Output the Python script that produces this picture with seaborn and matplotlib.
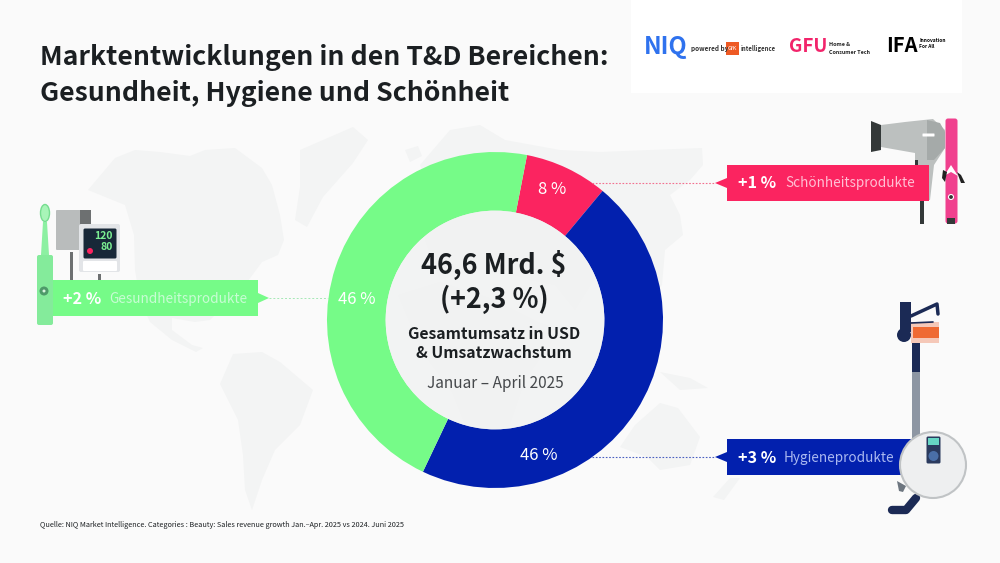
import matplotlib
matplotlib.use('Agg')
import matplotlib.pyplot as plt
import seaborn as sns
from matplotlib.patches import Polygon, Rectangle, Circle, FancyBboxPatch, Ellipse

# data
categories = ['Schönheitsprodukte', 'Hygieneprodukte', 'Gesundheitsprodukte']
shares = [8, 46, 46]
share_labels = ['8 %', '46 %', '46 %']
growth_labels = ['+1 %', '+3 %', '+2 %']
colors = ['#fb2460', '#0220ae', '#76fb88']

BG = '#fafafa'
LAND = '#f3f4f4'
DARK = '#1b1f22'
NAVY = '#1b2a55'
FONT = ['Noto Sans CJK SC', 'DejaVu Sans']

sns.set_theme(style='white')
plt.rcParams['font.family'] = FONT
palette = sns.color_palette(colors)

fig = plt.figure(figsize=(10, 5.63), dpi=100, facecolor=BG)


def px_axes(z):
    a = fig.add_axes([0, 0, 1, 1], zorder=z)
    a.set_xlim(0, 1000)
    a.set_ylim(563, 0)
    a.axis('off')
    a.patch.set_alpha(0)
    return a


bg = px_axes(0)
top = px_axes(2)

# world map in the background
land = [
    [(88, 190), (115, 158), (135, 150), (160, 152), (190, 156), (205, 150), (235, 148), (262, 168), (272, 185), (280, 215),
     (284, 240), (278, 255), (262, 262), (245, 285), (225, 305), (210, 320), (195, 322), (172, 318), (172, 330), (192, 345),
     (203, 348), (196, 352), (172, 340), (150, 322), (140, 300), (135, 270), (134, 235), (125, 205)],
    [(300, 150), (353, 127), (368, 140), (353, 163), (323, 197), (307, 227), (295, 220), (300, 187)],
    [(220, 384), (233, 354), (262, 352), (280, 362), (313, 390), (300, 425), (275, 450), (262, 480), (252, 510), (245, 490),
     (243, 455), (238, 420)],
    [(405, 150), (418, 146), (422, 156), (410, 162)],
    [(420, 165), (450, 130), (480, 125), (505, 140), (560, 150), (600, 152), (650, 150), (702, 148), (703, 165), (690, 180),
     (670, 195), (680, 215), (683, 235), (665, 250), (662, 285), (648, 300), (630, 272), (600, 270), (575, 310), (555, 285),
     (530, 280), (500, 270), (470, 270), (440, 280), (425, 240), (435, 205)],
    [(398, 295), (440, 282), (490, 298), (538, 322), (560, 330), (525, 380), (508, 430), (472, 442), (452, 392), (422, 352)],
    [(620, 447), (635, 425), (660, 403), (678, 408), (700, 437), (690, 465), (660, 470), (647, 457)],
    [(660, 372), (690, 378), (708, 388), (680, 390)],
    [(713, 497), (730, 478), (740, 478), (724, 500)],
]
for poly in land:
    bg.add_patch(Polygon(poly, closed=True, fc=LAND, ec='none'))

# logo box
bg.add_patch(Rectangle((631, 0), 331, 93, fc='white', ec='none'))

# donut
pie_ax = fig.add_axes([327 / 1000, 1 - 488 / 563, 336 / 1000, 336 / 563], zorder=1)
pie_ax.pie(shares, colors=palette, startangle=79, counterclock=False, radius=1,
           wedgeprops={'width': 0.349, 'linewidth': 0})
pie_ax.set_xlim(-1, 1)
pie_ax.set_ylim(-1, 1)
pie_ax.add_patch(Circle((0, 0), 0.651, fc='#f1f2f2', ec='none', alpha=0.85))
pie_ax.patch.set_alpha(0)

top.text(552, 189, share_labels[0], color='white', fontsize=12, ha='center', va='center')
top.text(539, 456, share_labels[1], color='white', fontsize=12, ha='center', va='center')
top.text(357, 299, share_labels[2], color='white', fontsize=12, ha='center', va='center')

# centre text
top.text(494, 265, '46,6 Mrd. $', color=DARK, fontsize=19.4, weight='bold', ha='center', va='center')
top.text(494, 299, '(+2,3 %)', color=DARK, fontsize=19.4, weight='bold', ha='center', va='center')
top.text(494, 334, 'Gesamtumsatz in USD', color=DARK, fontsize=11.4, weight='bold', ha='center', va='center')
top.text(494, 353, '& Umsatzwachstum', color=DARK, fontsize=11.4, weight='bold', ha='center', va='center')
top.text(495, 383, 'Januar – April 2025', color='#45484b', fontsize=11.1, ha='center', va='center')

# title and source
top.text(40, 57.5, 'Marktentwicklungen in den T&D Bereichen:', color=DARK, fontsize=19.2, weight='bold', va='center')
top.text(40, 93.5, 'Gesundheit, Hygiene und Schönheit', color=DARK, fontsize=19.2, weight='bold', va='center')
top.text(40, 525, 'Quelle: NIQ Market Intelligence. Categories : Beauty: Sales revenue growth Jan.–Apr. 2025 vs 2024. Juni 2025',
         color=DARK, fontsize=5.25, va='center')

# logos
top.text(644, 47, 'NIQ', color='#2f72ee', fontsize=17, weight='bold', va='center')
top.text(691, 49, 'powered by', color='#333333', fontsize=4.6, weight='bold', va='center')
top.add_patch(Rectangle((726, 42), 13, 13, fc='#ee5a24', ec='none'))
top.text(732.5, 48.5, 'GfK', color='white', fontsize=4, ha='center', va='center')
top.text(741, 49, 'intelligence', color='#333333', fontsize=4.3, weight='bold', va='center')
top.text(789, 46, 'GFU', color='#f2246b', fontsize=13.5, weight='bold', va='center')
top.text(829, 44, 'Home &', color='#222222', fontsize=3.9, weight='bold', va='center')
top.text(829, 52, 'Consumer Tech', color='#222222', fontsize=3.9, weight='bold', va='center')
top.text(886, 46, 'IFA', color='black', fontsize=14.5, weight='bold', va='center')
top.text(919, 41, 'Innovation', color='black', fontsize=3.5, weight='bold', va='center')
top.text(919, 47, 'For All', color='black', fontsize=3.5, weight='bold', va='center')

# icons, left side
bg.add_patch(FancyBboxPatch((57, 211), 28, 38, boxstyle='round,pad=1', fc='#b9bcbc', ec='none'))
bg.add_patch(Rectangle((80, 210), 11, 18, fc='#6d7071', ec='none'))
bg.add_patch(Rectangle((70, 252), 2.5, 30, fc='#6d7071', ec='none'))
bg.add_patch(Rectangle((98, 274), 2.5, 8, fc='#6d7071', ec='none'))
bg.add_patch(FancyBboxPatch((81, 226), 37, 44, boxstyle='round,pad=2', fc='#e3e5e8', ec='none'))
bg.add_patch(FancyBboxPatch((85, 230), 30, 27, boxstyle='round,pad=1.5', fc='#182838', ec='none'))
bg.add_patch(FancyBboxPatch((84, 262), 32, 8, boxstyle='round,pad=1', fc='white', ec='none'))
bg.text(113, 236, '120', color='#7cf093', fontsize=7.5, weight='bold', ha='right', va='center')
bg.text(113, 247, '80', color='#7cf093', fontsize=7.5, weight='bold', ha='right', va='center')
bg.add_patch(Circle((90, 251), 3, fc='#fb2460', ec='none'))
bg.add_patch(Ellipse((45, 213), 9, 17, fc='#a8f5b8', ec='#76dd90', lw=1))
bg.add_patch(Polygon([(43, 222), (47, 222), (49, 255), (41, 255)], fc='#8cf0a2', ec='none'))
bg.add_patch(FancyBboxPatch((39, 257), 12, 66, boxstyle='round,pad=2', fc='#84eb9b', ec='none'))
top.add_patch(Circle((44, 291), 4.5, fc='#4e9a6a', ec='none', zorder=5))
top.add_patch(Circle((44, 291), 1.5, fc='#d8f5df', ec='none', zorder=6))

# hair dryer and curler
bg.add_patch(Polygon([(871, 121), (881, 125), (881, 150), (871, 152)], fc='#333838', ec='none'))
bg.add_patch(Polygon([(881, 125), (905, 122), (933, 119), (945, 130), (945, 148), (934, 165), (930, 200), (915, 200), (915, 153), (881, 147)],
                     fc='#bcc0bf', ec='none'))
bg.add_patch(Polygon([(927, 120), (940, 123), (945, 132), (945, 148), (934, 160), (927, 160)], fc='#a5aaa9', ec='none'))
bg.add_patch(FancyBboxPatch((923, 134), 11, 2, boxstyle='round,pad=0.5', fc='white', ec='none'))
bg.add_patch(Rectangle((915, 160), 2.5, 8, fc='#333838', ec='none'))
bg.add_patch(Rectangle((920, 200), 4, 24, fc='#333838', ec='none'))
bg.add_patch(FancyBboxPatch((948, 121), 7, 100, boxstyle='round,pad=2.5', fc='#f0408e', ec='none'))
bg.add_patch(Rectangle((947, 218), 8, 6, fc='#333838', ec='none'))
bg.add_patch(Polygon([(944, 176), (951, 165), (958, 176), (951, 172)], fc='white', ec='none'))
bg.add_patch(Polygon([(943, 170), (947, 172), (945, 182), (942, 178)], fc='#222222', ec='none'))
bg.add_patch(Polygon([(957, 172), (961, 175), (965, 183), (961, 183)], fc='#222222', ec='none'))
bg.add_patch(Circle((951, 197), 2.5, fc='#333333', ec='white', lw=0.8))

# vacuum
bg.add_patch(Rectangle((912, 370), 8, 75, fc='#8d96a3', ec='none'))
bg.add_patch(Rectangle((912, 340), 8, 32, fc=NAVY, ec='none'))
bg.add_patch(Rectangle((900, 302), 11, 30, fc=NAVY, ec='none'))
bg.plot([911, 937, 938], [316, 304, 314], color=NAVY, lw=2.5, solid_capstyle='round')
bg.plot([911, 933], [323, 322], color=NAVY, lw=1.2)
bg.add_patch(Rectangle((911, 322), 28, 21, fc='#f5c8b8', ec='none'))
bg.add_patch(Rectangle((913, 327), 26, 11, fc='#ef6a33', ec='none'))
bg.add_patch(Circle((904, 335), 7, fc=NAVY, ec='none'))
bg.plot([892, 906, 916], [510, 510, 498], color=NAVY, lw=6, solid_capstyle='round')
bg.add_patch(Polygon([(897, 481), (906, 486), (903, 492), (899, 491)], fc='#6d7680', ec='none'))

# banners with their dotted leaders
top.plot([592, 715], [182.5, 182.5], color='#f2708f', lw=0.8, ls=(0, (1.5, 1.5)))
top.plot([592, 715], [457, 457], color='#4a5fc0', lw=0.8, ls=(0, (1.5, 1.5)))
top.plot([269, 328], [298, 298], color='#a5e8b5', lw=0.7, ls=(0, (2, 2)))

top.add_patch(Polygon([(727, 165), (929, 165), (929, 201), (727, 201), (727, 188), (715, 183), (727, 178)], fc=palette[0], ec='none'))
top.add_patch(Polygon([(727, 439), (925, 439), (925, 475), (727, 475), (727, 462), (715, 457), (727, 452)], fc=palette[1], ec='none'))
top.add_patch(Polygon([(53, 280), (258, 280), (258, 293), (269, 298), (258, 303), (258, 316), (53, 316)], fc=palette[2], ec='none'))

top.text(738, 183.5, growth_labels[0], color='white', fontsize=11.6, weight='bold', va='center')
top.text(785, 183.5, categories[0], color='#ffc0d4', fontsize=9.75, va='center')
top.text(738, 458, growth_labels[1], color='white', fontsize=11.6, weight='bold', va='center')
top.text(784, 458, categories[1], color='#aab8f0', fontsize=9.75, va='center')
top.text(63, 299, growth_labels[2], color='white', fontsize=11.6, weight='bold', va='center')
top.text(109, 299, categories[2], color='#c8fcd4', fontsize=9.75, va='center')

# robot sits on top of the blue banner
top.add_patch(Circle((933, 465), 33, fc='#eeeff0', ec='#c0c3c5', lw=1.5, zorder=5))
top.add_patch(FancyBboxPatch((928, 438), 11, 24, boxstyle='round,pad=1.5', fc='#2a3a5e', ec='none', zorder=6))
top.add_patch(Rectangle((928, 438), 11, 7, fc='#66d6c4', ec='none', zorder=7))
top.add_patch(Circle((933.5, 456), 5, fc='#4a6fa8', ec='none', zorder=7))

fig.savefig('out.png', dpi=100, facecolor=BG)
